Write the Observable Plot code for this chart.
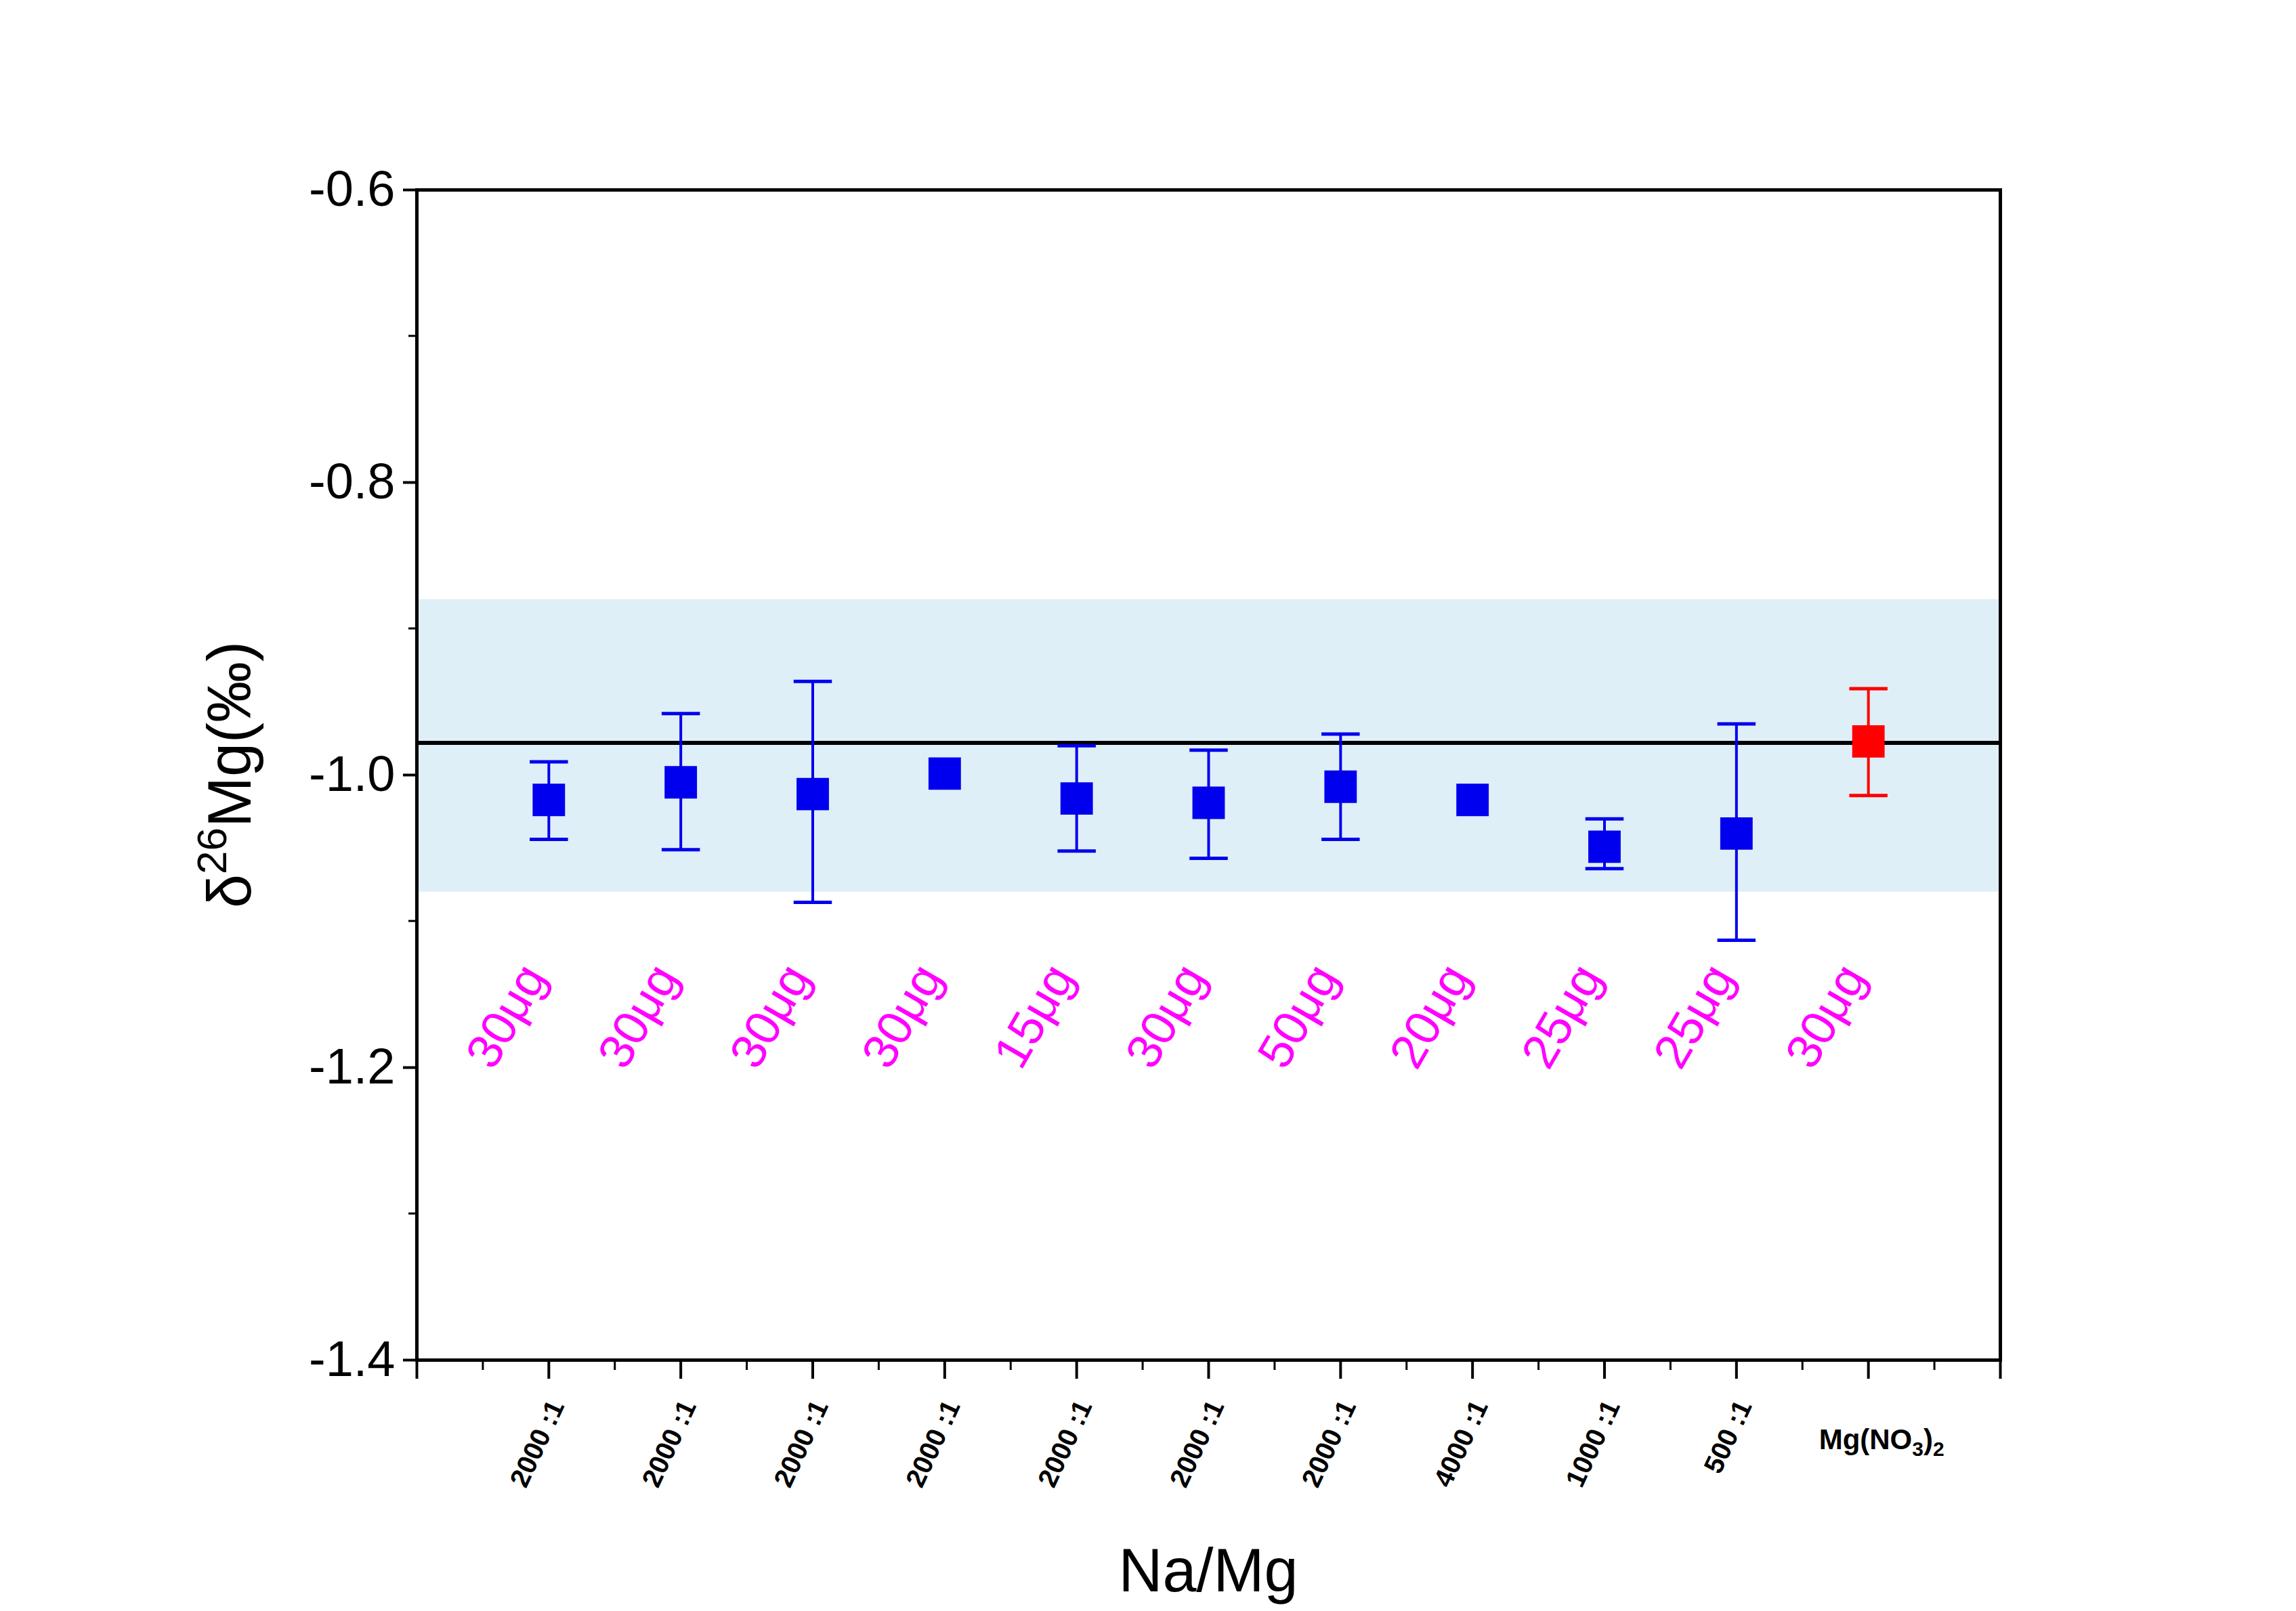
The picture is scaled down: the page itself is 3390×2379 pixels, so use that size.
<!DOCTYPE html>
<html><head><meta charset="utf-8">
<script src="https://cdn.jsdelivr.net/npm/d3@7"></script>
<script src="https://cdn.jsdelivr.net/npm/@observablehq/plot@0.6"></script>
<style>body{margin:0;background:#fff}</style>
</head><body><div id="c"></div>
<script>
const positions = [1,2,3,4,5,6,7,8,9,10,11];
const ratioLabels = ["2000 :1","2000 :1","2000 :1","2000 :1","2000 :1","2000 :1","2000 :1","4000 :1","1000 :1","500 :1",""];
const massLabels = ["30μg","30μg","30μg","30μg","15μg","30μg","50μg","20μg","25μg","25μg","30μg"];
const values = [-1.017,-1.005,-1.013,-0.999,-1.016,-1.019,-1.008,-1.017,-1.049,-1.040,-0.977];
const errHigh = [-0.991,-0.958,-0.936,null,-0.980,-0.983,-0.972,null,-1.030,-0.965,-0.941];
const errLow  = [-1.044,-1.051,-1.087,null,-1.052,-1.057,-1.044,null,-1.064,-1.113,-1.014];
const colors = ["#0000ee","#0000ee","#0000ee","#0000ee","#0000ee","#0000ee","#0000ee","#0000ee","#0000ee","#0000ee","#ff0000"];
const bandRange = [-1.08,-0.88];
const refValue = -0.978;
const yMajor = [-0.6,-0.8,-1.0,-1.2,-1.4];
const yMinor = [-0.7,-0.9,-1.1,-1.3];
const xMajor = [0,1,2,3,4,5,6,7,8,9,10,11,12];
const xMinor = [0.5,1.5,2.5,3.5,4.5,5.5,6.5,7.5,8.5,9.5,10.5,11.5];

const data = positions.map((x,i)=>({x, v:values[i], hi:errHigh[i], lo:errLow[i], c:colors[i], m:massLabels[i], r:ratioLabels[i]}));
const errs = data.filter(d=>d.hi!=null);
const cap = 0.145;
const font = "Arial, 'Liberation Sans', sans-serif";

const plot = Plot.plot({
  width:3390, height:2379,
  marginLeft:615, marginRight:437, marginTop:280, marginBottom:371,
  style:{fontFamily:font, background:"#fff"},
  x:{type:"linear", domain:[0,12], axis:null},
  y:{type:"linear", domain:[-1.4,-0.6], axis:null},
  marks:[
    Plot.rect([{y1:bandRange[0], y2:bandRange[1], x1:0, x2:12}],{x1:"x1",x2:"x2",y1:"y1",y2:"y2",fill:"#dfeff7"}),
    Plot.ruleY([refValue],{stroke:"#000",strokeWidth:6}),
    Plot.ruleX(errs,{x:"x",y1:"lo",y2:"hi",stroke:d=>d.c,strokeWidth:4}),
    Plot.link(errs,{x1:d=>d.x-cap,x2:d=>d.x+cap,y1:"hi",y2:"hi",stroke:d=>d.c,strokeWidth:5}),
    Plot.link(errs,{x1:d=>d.x-cap,x2:d=>d.x+cap,y1:"lo",y2:"lo",stroke:d=>d.c,strokeWidth:5}),
    Plot.dot(data,{x:"x",y:"v",symbol:"square",r:27,fill:d=>d.c,stroke:null}),
    Plot.text(data,{x:"x",y:()=>-1.165,text:"m",fill:"#ff00ff",fontSize:72,rotate:-60,dx:-62,textAnchor:"middle"}),
    Plot.frame({stroke:"#000",strokeWidth:5}),
    Plot.axisY({ticks:yMajor,tickSize:20,tickPadding:12,tickFormat:d=>d.toFixed(1),fontSize:74,strokeWidth:4,label:null}),
    Plot.axisX({ticks:xMajor,tickSize:28,tickFormat:()=>"",strokeWidth:4,label:null}),
    Plot.axisX({ticks:xMinor,tickSize:15,tickFormat:()=>"",strokeWidth:3,label:null}),
    Plot.text(data.filter(d=>d.r),{x:"x",y:()=>-1.4,text:"r",rotate:-65,textAnchor:"end",fontSize:40,fontWeight:"bold",dy:62,dx:12,fill:"#000"})
  ]
});
document.getElementById("c").appendChild(plot);
const svg = d3.select(plot);
const xs = plot.scale("x"), ys = plot.scale("y");
yMinor.forEach(v=>{
  svg.append("line").attr("x1",615-12).attr("x2",615).attr("y1",ys.apply(v)).attr("y2",ys.apply(v)).attr("stroke","#000").attr("stroke-width",3);
});
const t = svg.append("text").attr("x",xs.apply(11)+20).attr("y",2140).attr("text-anchor","middle")
  .attr("font-size",42).attr("font-weight","bold").attr("font-family",font);
t.append("tspan").text("Mg(NO");
t.append("tspan").attr("font-size",30).attr("dy",10).text("3");
t.append("tspan").attr("dy",-10).text(")");
t.append("tspan").attr("font-size",30).attr("dy",10).text("2");
svg.append("text").attr("x",(615+2953)/2).attr("y",2350).attr("text-anchor","middle")
  .attr("font-size",90).attr("font-family",font).text("Na/Mg");
const yl = svg.append("text").attr("transform",`translate(370,${(280+2008)/2}) rotate(-90)`).attr("text-anchor","middle")
  .attr("font-size",90).attr("font-family",font);
yl.append("tspan").text("δ");
yl.append("tspan").attr("font-size",62).attr("dy",-36).text("26");
yl.append("tspan").attr("dy",36).text("Mg(‰)");
</script></body></html>
